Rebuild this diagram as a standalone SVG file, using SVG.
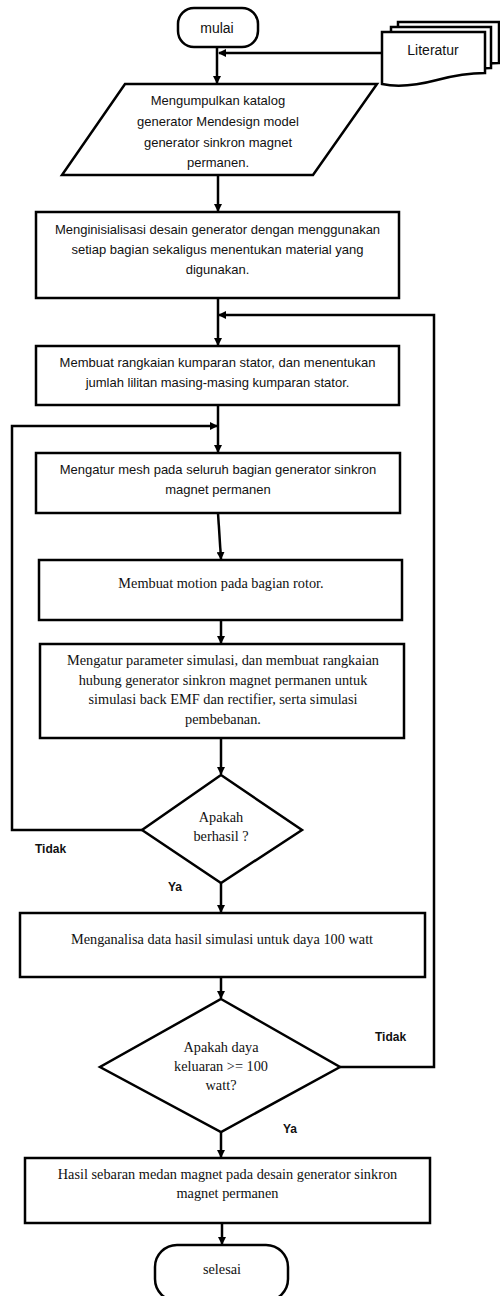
<svg xmlns="http://www.w3.org/2000/svg" width="500" height="1296" viewBox="0 0 500 1296">
<style>
.s{fill:#fff;stroke:#000;stroke-width:2.5}
.c{fill:none;stroke:#000;stroke-width:2.5}
.t{font-family:"Liberation Sans",Arial,sans-serif;font-size:13px;fill:#111;text-anchor:middle}
.L{font-size:14px}
.r{font-family:"Liberation Serif","Times New Roman",serif;font-size:14.3px;fill:#111;text-anchor:middle}
.b{font-family:"Liberation Sans",Arial,sans-serif;font-size:12px;font-weight:bold;fill:#111}
</style>
<defs>
<marker id="a" markerUnits="userSpaceOnUse" markerWidth="8" markerHeight="8" refX="7" refY="4" orient="auto">
<path d="M0,0 L8,4 L0,8 z" fill="#000"/>
</marker>
</defs>
<rect width="500" height="1296" fill="#fff"/>
<g id="connectors">
<path class="c" d="M217,47 V83" marker-end="url(#a)"/>
<path class="c" d="M382,53 H219" marker-end="url(#a)"/>
<path class="c" d="M218,175 V211" marker-end="url(#a)"/>
<path class="c" d="M218,298 V345" marker-end="url(#a)"/>
<path class="c" d="M340,1067 H434 V315 H219" marker-end="url(#a)"/>
<path class="c" d="M218,405 V452" marker-end="url(#a)"/>
<path class="c" d="M142,830 H12 V426 H217" marker-end="url(#a)"/>
<path class="c" d="M218,513 L221,559" marker-end="url(#a)"/>
<path class="c" d="M221,620 V643" marker-end="url(#a)"/>
<path class="c" d="M221,738 V774" marker-end="url(#a)"/>
<path class="c" d="M221,883 V912" marker-end="url(#a)"/>
<path class="c" d="M221,977 V998" marker-end="url(#a)"/>
<path class="c" d="M221,1132 V1157" marker-end="url(#a)"/>
<path class="c" d="M222,1223 V1244" marker-end="url(#a)"/>
</g>
<g id="mulai">
<rect class="s" x="178" y="8" width="80" height="39" rx="16"/>
<text class="t L" x="217" y="32.5">mulai</text>
</g>
<g id="literatur">
<path class="s" d="M398,22 H499 V63 C480,63 470,66 455,70 C435,75 415,76 398,73 Z"/>
<path class="s" d="M391,27 H491 V68 C472,68 462,71 447,75 C427,80 407,81 391,78 Z"/>
<path class="s" d="M382,32 H485 V73 C465,73 452,76 437,80 C418,85 400,88 382,84 Z"/>
<text class="t L" x="433" y="55">Literatur</text>
</g>
<g id="katalog">
<polygon class="s" points="125,84 377,84 313,175 62,175"/>
<text class="t" x="218" y="105">Mengumpulkan katalog</text>
<text class="t" x="218" y="126">generator Mendesign model</text>
<text class="t" x="218" y="147">generator sinkron magnet</text>
<text class="t" x="218" y="167">permanen.</text>
</g>
<g id="inisialisasi">
<rect class="s" x="36" y="212" width="363" height="86"/>
<text class="t" x="217.5" y="233.5">Menginisialisasi desain generator dengan menggunakan</text>
<text class="t" x="217.5" y="253.5">setiap bagian sekaligus menentukan material yang</text>
<text class="t" x="217.5" y="273.5">digunakan.</text>
</g>
<g id="kumparan">
<rect class="s" x="36" y="346" width="363" height="59"/>
<text class="t" x="217.5" y="367">Membuat rangkaian kumparan stator, dan menentukan</text>
<text class="t" x="217.5" y="387">jumlah lilitan masing-masing kumparan stator.</text>
</g>
<g id="mesh">
<rect class="s" x="36" y="453" width="364" height="60"/>
<text class="t" x="218" y="473.5">Mengatur mesh pada seluruh bagian generator sinkron</text>
<text class="t" x="218" y="493.5">magnet permanen</text>
</g>
<g id="motion">
<rect class="s" x="39" y="560" width="363" height="60"/>
<text class="r" x="221" y="588">Membuat motion pada bagian rotor.</text>
</g>
<g id="parameter">
<rect class="s" x="40" y="644" width="364" height="94"/>
<text class="r" x="223" y="664.5">Mengatur parameter simulasi, dan membuat rangkaian</text>
<text class="r" x="223" y="684.5">hubung generator sinkron magnet permanen untuk</text>
<text class="r" x="223" y="704">simulasi back EMF dan rectifier, serta simulasi</text>
<text class="r" x="223" y="723.5">pembebanan.</text>
</g>
<g id="berhasil">
<polygon class="s" points="221,775 302,830 221,883 142,830"/>
<text class="r" x="221" y="822">Apakah</text>
<text class="r" x="221" y="840.5">berhasil ?</text>
</g>
<g id="analisa">
<rect class="s" x="20" y="913" width="405" height="64"/>
<text class="r" x="222" y="944">Menganalisa data hasil simulasi untuk daya 100 watt</text>
</g>
<g id="daya">
<polygon class="s" points="221,999 340,1067 221,1132 100,1067"/>
<text class="r" x="221" y="1052">Apakah daya</text>
<text class="r" x="221" y="1071">keluaran &gt;= 100</text>
<text class="r" x="221" y="1090">watt?</text>
</g>
<g id="hasil">
<rect class="s" x="25" y="1158" width="405" height="65"/>
<text class="r" x="227.5" y="1178.5">Hasil sebaran medan magnet pada desain generator sinkron</text>
<text class="r" x="227.5" y="1197.5">magnet permanen</text>
</g>
<g id="selesai">
<rect class="s" x="155" y="1245" width="133" height="56" rx="22"/>
<text class="r" x="222" y="1273.5">selesai</text>
</g>
<g id="labels">
<text class="b" x="35" y="852.5">Tidak</text>
<text class="b" x="168" y="891">Ya</text>
<text class="b" x="375" y="1041">Tidak</text>
<text class="b" x="283" y="1132.5">Ya</text>
</g>
</svg>
